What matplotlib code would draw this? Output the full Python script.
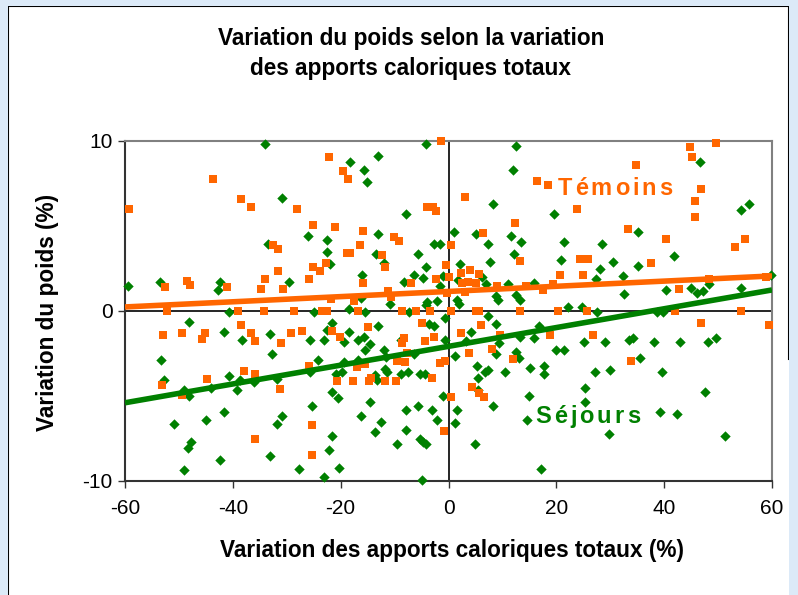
import matplotlib
matplotlib.use("Agg")
import matplotlib.pyplot as plt
from matplotlib.lines import Line2D
import matplotlib.transforms as mtransforms
import numpy as np

plt.rcParams['font.family'] = ['Liberation Sans', 'DejaVu Sans']

# ---- data ----
temoins_x = [-43.6, -59.3, -38.4, -36.6, -32.5, -31.7, -31.7, -34.0, -52.5, -48.5, -48.0, -41.0, -34.7, -30.7,
             -1.3, -22.1, -19.5, -18.7, -28.1, -3.9, -2.8, -2.4, -25.1, -21.0, -15.8, -10.2, -9.1, -16.5,
             -18.9, -18.2, -12.4, 0.4, -22.8, -11.7, -25.1, -23.9, -0.5, 0.0, -25.8, -2.4, -15.8, -6.9,
             -11.2, -10.6, -21.8, -17.6,
             16.4, 18.4, 3.15, 23.9, 12.4, 6.4, 24.3, 25.8, 13.2, 3.9, 2.35, 5.7, 20.6, 25.0,
             2.5, 3.65, 5.1, 9.0, 14.3, 19.4, 3.0, 17.6, -0.25,
             44.7, 49.6, 45.1, 34.7, 46.9, 45.8, 45.8, 33.2, 40.3, 55.0, 53.2, 37.6, 42.8, 48.4, 58.8,
             54.3, 42.1, -52.2, -39.1, -34.3, -28.6, -23.4, -22.5, -16.8, -8.7, -6.1, -3.5, 0.5, 5.1,
             5.6, 13.2, 20.3, 25.7,
             -52.9, -49.5, -45.8, -45.1, -38.4, -36.6, -35.8, -31.0, -53.2, -49.5, -44.7, -38.0, -35.8,
             -31.3, -35.8,
             -29.2, -27.2, -21.7, -20.2, -15.0, -8.3, -8.6, -7.7, -5.0, -4.3, -2.7, -25.8, -16.9, -15.4,
             -20.6, -17.7, -14.8, -14.3, -11.7, -9.8, -9.5, -8.0, -3.15, -1.5, -0.7, -25.4, -0.87, -25.4,
             6.1, 2.4, 9.5, 18.8, 26.8, 3.8, 8.0, 12.0, 4.3, 5.6, 6.55, 0.55,
             46.9, 59.5, 33.9]
temoins_y = [7.76, 6.0, 6.6, 6.1, 3.9, 3.65, 2.35, 1.88, 1.41, 1.76, 1.53, 1.41, 1.29, 1.29,
             10.0, 9.06, 8.24, 7.76, 6.0, 6.1, 6.1, 5.88, 5.06, 4.94, 4.7, 4.35, 4.12, 3.88,
             3.41, 3.41, 3.29, 3.9, 2.82, 2.59, 2.59, 2.35, 2.7, 2.0, 1.88, 1.88, 1.65, 1.65,
             1.2, 0.84, 0.7, 0.57,
             7.67, 7.43, 6.73, 6.0, 5.18, 4.59, 3.06, 3.06, 2.94, 2.39, 2.22, 2.16, 2.14, 2.14,
             1.67, 1.73, 1.63, 1.45, 1.45, 1.57, 1.1, 1.24, 1.08,
             9.67, 9.88, 9.08, 8.61, 7.18, 6.47, 5.51, 4.82, 4.24, 4.24, 3.76, 2.82, 1.29, 1.88, 2.0,
             0.0, 0.0, 0.0, 0.0, 0.0, 0.0, 0.0, 0.0, 0.0, 0.0, 0.0, 0.0, 0.0, 0.0,
             0.0, 0.0, 0.0, 0.0,
             -1.41, -1.27, -1.65, -1.27, -0.82, -1.27, -1.75, -1.9, -4.35, -4.94, -4.0, -3.53, -3.73,
             -4.59, -7.53,
             -1.31, -1.18, -1.18, -1.55, -0.96, -1.61, -1.9, -2.49, -0.73, -1.75, -1.55, -3.24, -3.27, -3.14,
             -4.12, -4.12, -4.12, -3.96, -4.12, -4.12, -2.94, -3.02, -3.96, -3.08, -2.94, -6.71, -7.04, -8.47,
             -0.82, -1.27, -1.41, -1.41, -1.41, -2.49, -2.24, -2.82, -4.45, -4.8, -5.04, -5.04,
             -0.69, -0.82, -2.94]

sejours_x = [-34.1, -30.9, -33.5, -59.4, -53.5, -42.3, -42.7,
             -4.1, -18.2, -13.0, -15.6, -15.2, -7.8, -26.0, -22.6, -13.0, -22.6, -13.5, -5.6, -2.6, -1.5,
             -21.9, -11.9, -4.1, -16.0, -6.4, -4.8, -1.05, -29.6, -8.2, -1.5, -16.3, -10.8, -3.95, -2.2, -4.1,
             12.6, 11.9, 8.2, 19.6, 1.1, 5.1, 11.5, 13.4, 7.4, 21.5, 28.5, 12.2, 20.8, 2.2, 7.7, 30.5, 28.1,
             1.7, 6.3, 27.4, 7.0, 11.1, 15.9, 8.8, 9.2, 12.6, 13.2, 1.5, 1.9, 22.2, 24.8,
             46.7, 54.2, 55.7, 35.2, 41.9, 35.2, 32.3, 32.6, 40.4, 44.9, 46.0, 47.2, 48.3, 54.2, 59.9,
             -40.7, -48.1, -41.6, -38.3, -33.1, -32.7, -53.4, -52.7, -49.0, -48.2, -44.1, -40.8, -39.3,
             -38.6, -36.0, -31.9, -50.9, -44.9, -41.6, -30.9, -31.9, -47.8, -48.3, -42.3, -33.1, -49.0,
             -25.0, -18.5, -15.5, -7.4, -21.6, -25.6, -23.0, -22.5, -18.5, -19.4, -13.0, -16.8, -15.6,
             -14.5, -15.4, -12.0, -11.5, -8.9, -6.4, -3.65, -2.6, -0.74, -0.74, -24.2, -25.6, -19.4,
             -19.7, -20.8, -16.8, -13.7, -13.2, -11.7, -11.4, -8.9, -7.5, -5.3, -4.4, -21.6, -20.5,
             -14.5, -25.3, -16.3, -12.6, -13.7, -7.8, -5.6, -3.0, -2.2, -7.8, -1.1, -21.6, -22.2, -9.6,
             -5.2, -4.7, -4.1, -27.8, -20.3, -23.0, -4.9,
             27.6, 7.4, 8.9, 4.1, 3.3, 9.3, 13.35, 15.8, 16.7, 25.2, 29.0, 1.2, 8.9, 12.6, 13.0, 20.0,
             21.5, 5.2, 5.5, 6.7, 7.4, 10.4, 15.2, 17.8, 17.8, 27.1, 30.0, 5.5, 8.2, 14.9, 25.3, 25.3,
             1.5, 1.2, 14.5, 4.9, 29.7, 17.1,
             38.7, 39.7, 33.4, 34.3, 38.2, 43.0, 48.2, 49.7, 35.6, 39.6, 47.5, 39.3, 42.3, 51.2]
sejours_y = [9.8, 6.65, 3.94, 1.49, 1.7, 1.7, 1.22,
             9.82, 8.76, 9.12, 8.29, 7.59, 5.7, 4.41, 4.18, 4.53, 3.47, 3.35, 3.35, 3.94, 3.94,
             2.76, 2.82, 2.59, 2.1, 2.1, 1.94, 2.06, 1.7, 1.7, 1.49, 0.76, 0.41, 0.55, 0.6, 0.35,
             9.7, 8.29, 6.3, 5.7, 4.65, 4.53, 4.41, 4.06, 3.94, 4.06, 3.94, 3.35, 3.0, 2.76, 2.88, 2.88, 2.45,
             1.84, 1.98, 1.86, 1.61, 1.61, 1.63, 0.86, 0.63, 0.96, 0.63, 0.63, 0.43, 0.25, 0.25,
             8.75, 5.92, 6.29, 4.65, 3.24, 2.65, 2.08, 1.0, 1.22, 1.37, 1.04, 1.2, 1.59, 1.37, 2.12,
             -0.04, -0.63, -1.22, -1.69, -1.35, -2.53, -2.88, -4.04, -4.63, -4.98, -4.55, -3.8, -4.67,
             -4.04, -4.2, -4.0, -6.65, -6.41, -5.94, -6.18, -6.65, -7.69, -8.08, -8.75, -8.53, -9.33,
             -0.08, 0.12, -0.08, -0.08, -0.73, -1.71, -1.71, -1.12, -1.22, -1.84, -0.88, -1.71, -1.51,
             -1.94, -2.29, -2.29, -2.69, -1.71, -2.55, -0.78, -0.9, -0.43, -1.69, -2.88, -3.57, -3.02,
             -3.57, -3.7, -2.88, -3.76, -4.06, -3.41, -3.57, -3.7, -3.57, -3.7, -3.7, -4.78, -5.1,
             -5.37, -5.57, -6.18, -6.51, -7.14, -5.82, -5.57, -5.82, -6.41, -7.0, -4.98, -7.33, -8.18, -7.82,
             -7.55, -7.69, -7.82, -9.31, -9.22, -9.78, -9.94,
             -0.08, -0.29, -0.76, -1.22, -1.75, -1.86, -1.51, -1.61, -0.86, -1.8, -1.8, -2.65, -2.55, -2.39,
             -2.75, -2.29, -2.29, -3.24, -3.92, -3.61, -3.47, -3.61, -3.33, -3.22, -3.73, -3.61, -3.47,
             -4.67, -5.57, -4.98, -4.51, -5.37, -5.82, -6.61, -6.41, -7.82, -7.24, -9.31,
             -0.08, -0.08, -1.71, -1.57, -1.8, -1.84, -1.84, -1.57, -2.75, -3.61, -4.78, -5.92, -6.06, -7.35]

# trend lines (slope, intercept)
temoins_trend = (0.0152, 1.15)
sejours_trend = (0.0553, -2.08)

x_ticks = [-60, -40, -20, 0, 20, 40, 60]
y_ticks = [-10, 0, 10]

ORANGE = '#FF6600'
GREEN = '#008000'

W, H = 798, 595
fig = plt.figure(figsize=(W / 100, H / 100), dpi=100)
fig.patch.set_facecolor('#DCEAF8')

# white chart area with black frame
bg = fig.add_axes([8 / W, 0, 781 / W, (H - 6) / H])
bg.set_xlim(0, 1); bg.set_ylim(0, 1)
bg.axis('off')
bg.add_patch(plt.Rectangle((0, 0), 1, 1.0, facecolor='white', edgecolor='none'))
bg.add_line(Line2D([0, 0], [0, 1], color='black', lw=1.5))
bg.add_line(Line2D([0, 1], [1, 1], color='black', lw=1.5))
bg.add_line(Line2D([1, 1], [0.4, 1], color='black', lw=1.5))

L, R, T, B = 125, 772, 141, 481
ax = fig.add_axes([L / W, 1 - B / H, (R - L) / W, (B - T) / H])
ax.set_facecolor('white')
ax.set_xlim(-60, 60)
ax.set_ylim(-10, 10)
ax.set_xticks(x_ticks)
ax.set_yticks(y_ticks)
ax.set_xticklabels([str(v) for v in x_ticks], fontsize=15)
ax.set_yticklabels([str(v) for v in y_ticks], fontsize=15)
ax.tick_params(direction='out', length=5, width=1, color='#333333')
ax.tick_params(axis='x', pad=8)
ax.tick_params(axis='y', pad=4)
for s in ['top', 'right']:
    ax.spines[s].set_color('#808080')
    ax.spines[s].set_linewidth(1.5)
for s in ['left', 'bottom']:
    ax.spines[s].set_color('#333333')
    ax.spines[s].set_linewidth(1.5)

ax.axvline(0, color='black', lw=1.2, zorder=1)
ax.axhline(0, color='black', lw=1.2, zorder=1)

ax.scatter(sejours_x, sejours_y, marker='D', s=28, color=GREEN, linewidths=0, zorder=3, clip_on=False)
ax.scatter(temoins_x, temoins_y, marker='s', s=38, color=ORANGE, linewidths=0, zorder=4, clip_on=False)

xx = np.array([-60, 60])
ax.plot(xx, sejours_trend[0] * xx + sejours_trend[1], color=GREEN, lw=4, zorder=5, solid_capstyle='butt')
ax.plot(xx, temoins_trend[0] * xx + temoins_trend[1], color=ORANGE, lw=4, zorder=5, solid_capstyle='butt')

renderer = fig.canvas.get_renderer()


def spaced_text(x, y, s, gap_px, **kw):
    """Draw text letter by letter with extra spacing (in pixels)."""
    offset = 0.0
    for ch in s:
        tr = mtransforms.offset_copy(ax.transData, fig=fig, x=offset * 72 / fig.dpi, y=0, units='points')
        t = ax.text(x, y, ch, transform=tr, ha='left', va='center', **kw)
        w = t.get_window_extent(renderer=renderer).width
        offset += w + gap_px


spaced_text(20.2, 7.2, 'Témoins', 3.0, color=ORANGE, fontsize=17, fontweight='bold', zorder=6)
spaced_text(16.1, -6.2, 'Séjours', 3.0, color=GREEN, fontsize=17, fontweight='bold', zorder=6)

TS = 16.3
fig.text(411 / W, 1 - 38 / H, 'Variation du poids selon la variation', fontsize=TS, fontweight='bold',
         ha='center', va='center')
fig.text(411 / W, 1 - 68 / H, 'des apports caloriques totaux', fontsize=TS, fontweight='bold',
         ha='center', va='center')
fig.text(452 / W, 1 - 551 / H, 'Variation des apports caloriques totaux (%)', fontsize=TS, fontweight='bold',
         ha='center', va='center')
fig.text(48 / W, 1 - 312 / H, 'Variation du poids (%)', fontsize=TS, fontweight='bold',
         ha='center', va='center', rotation=90)

fig.savefig('out.png', dpi=100, facecolor=fig.get_facecolor())
